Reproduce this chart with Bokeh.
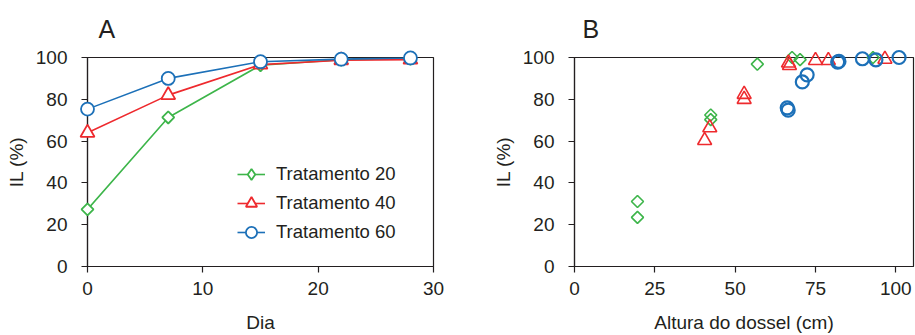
from bokeh.plotting import figure
from bokeh.layouts import row
from bokeh.models import FixedTicker, Legend, LegendItem, Range1d
from bokeh.embed import file_html
from bokeh.resources import INLINE
import math

# ---- data ----
dias = [0, 7, 15, 22, 28]
il_a_20 = [27.3, 71.3, 96.3, 98.9, 99.4]
il_a_40 = [64.0, 82.0, 96.6, 98.7, 99.0]
il_a_60 = [75.3, 90.0, 98.0, 99.2, 99.8]

alt_20 = [19.6, 19.6, 42.4, 42.4, 56.9, 67.7, 70.2, 92.9]
il_b_20 = [31.1, 23.5, 72.5, 70.3, 96.8, 100.0, 99.0, 100.0]
alt_40 = [40.5, 42.1, 52.8, 52.8, 66.6, 66.9, 75.0, 79.0, 96.6]
il_b_40 = [60.3, 66.4, 82.4, 80.0, 97.4, 96.2, 98.6, 98.6, 99.2]
alt_60 = [66.2, 66.5, 70.9, 72.4, 81.9, 82.3, 89.6, 93.8, 101.0]
il_b_60 = [75.9, 74.8, 88.3, 91.7, 97.8, 98.1, 99.4, 98.9, 100.0]

labels = ["Tratamento 20", "Tratamento 40", "Tratamento 60"]
panel_titles = ["A", "B"]
y_ticks = [0, 20, 40, 60, 80, 100]
x_ticks_a = [0, 10, 20, 30]
x_ticks_b = [0, 25, 50, 75, 100]

GREEN = "#3db54a"
RED = "#ee2a2e"
BLUE = "#1c70b8"
TXT = "#231f20"
FONT = "Liberation Sans"
ROT = math.pi / 4


def style(p, xticks, xlabel, title, title_x):
    p.xgrid.visible = False
    p.ygrid.visible = False
    p.outline_line_color = TXT
    p.outline_line_width = 1.2
    p.background_fill_color = "white"
    p.border_fill_color = "white"
    p.title.text = title
    p.title.align = "left"
    p.title.offset = title_x
    p.title.vertical_align = "top"
    p.title.standoff = 26
    p.title.text_font = FONT
    p.title.text_font_size = "25px"
    p.title.text_font_style = "normal"
    p.title.text_color = TXT
    for ax in (p.xaxis[0], p.yaxis[0]):
        ax.axis_line_color = TXT
        ax.axis_line_width = 1.2
        ax.major_tick_line_color = TXT
        ax.major_tick_line_width = 1.2
        ax.major_tick_out = 6
        ax.major_tick_in = 0
        ax.minor_tick_line_color = None
        ax.major_label_text_font = FONT
        ax.major_label_text_font_size = "19px"
        ax.major_label_text_color = TXT
        ax.axis_label_text_font = FONT
        ax.axis_label_text_font_size = "19px"
        ax.axis_label_text_font_style = "normal"
        ax.axis_label_text_color = TXT
    p.xaxis[0].ticker = FixedTicker(ticks=xticks)
    p.yaxis[0].ticker = FixedTicker(ticks=y_ticks)
    p.xaxis[0].axis_label = xlabel
    p.yaxis[0].axis_label = "IL (%)"
    p.xaxis[0].major_label_standoff = 9
    p.yaxis[0].major_label_standoff = 14
    p.xaxis[0].axis_label_standoff = 14
    p.yaxis[0].axis_label_standoff = 6


# ---- panel A ----
pA = figure(width=455, height=335, x_range=Range1d(0, 30), y_range=Range1d(0, 100),
            output_backend="svg", toolbar_location=None,
            min_border_left=87, min_border_right=22, min_border_top=57, min_border_bottom=69)
style(pA, x_ticks_a, "Dia", panel_titles[0], 11)

items = []
for ys, col, mk, sz, ang, lmk, lab in [(il_a_20, GREEN, "square", 8.5, ROT, "diamond", labels[0]),
                                        (il_a_40, RED, "triangle", 14, 0, "triangle", labels[1]),
                                        (il_a_60, BLUE, "circle", 13, 0, "circle", labels[2])]:
    ln = pA.line(dias, ys, line_color=col, line_width=1.6)
    pA.scatter(dias, ys, marker=mk, size=sz, angle=ang, line_color=col, line_width=1.8,
               fill_color="white", level="overlay")
    # legend-only glyph (zero size on the plot, drawn at legend size in the legend)
    lg = pA.scatter(dias, ys, marker=lmk, size=0, line_color=col, line_width=1.8,
                    fill_color="white")
    items.append(LegendItem(label=lab, renderers=[ln, lg]))

leg = Legend(items=items, location=(150, 20), glyph_width=28, glyph_height=28,
             label_height=28, spacing=1, label_standoff=11, padding=0, margin=0,
             border_line_color=None, background_fill_alpha=0,
             label_text_font=FONT, label_text_font_size="18.5px", label_text_color=TXT)
pA.add_layout(leg)

# ---- panel B ----
pB = figure(width=460, height=335, x_range=Range1d(0, 105.5), y_range=Range1d(0, 100),
            output_backend="svg", toolbar_location=None,
            min_border_left=119, min_border_right=2, min_border_top=57, min_border_bottom=69)
style(pB, x_ticks_b, "Altura do dossel (cm)", panel_titles[1], 8)

pB.scatter(alt_20, il_b_20, marker="square", angle=ROT, size=8.5, line_color=GREEN,
           line_width=1.6, fill_color=None, level="overlay")
pB.scatter(alt_40, il_b_40, marker="triangle", size=14, line_color=RED, line_width=1.6,
           fill_color=None, level="overlay")
pB.scatter(alt_60, il_b_60, marker="circle", size=13, line_color=BLUE, line_width=2.2,
           fill_color=None, level="overlay")

layout = row(pA, pB)
open("out.html", "w").write(file_html(layout, INLINE))
